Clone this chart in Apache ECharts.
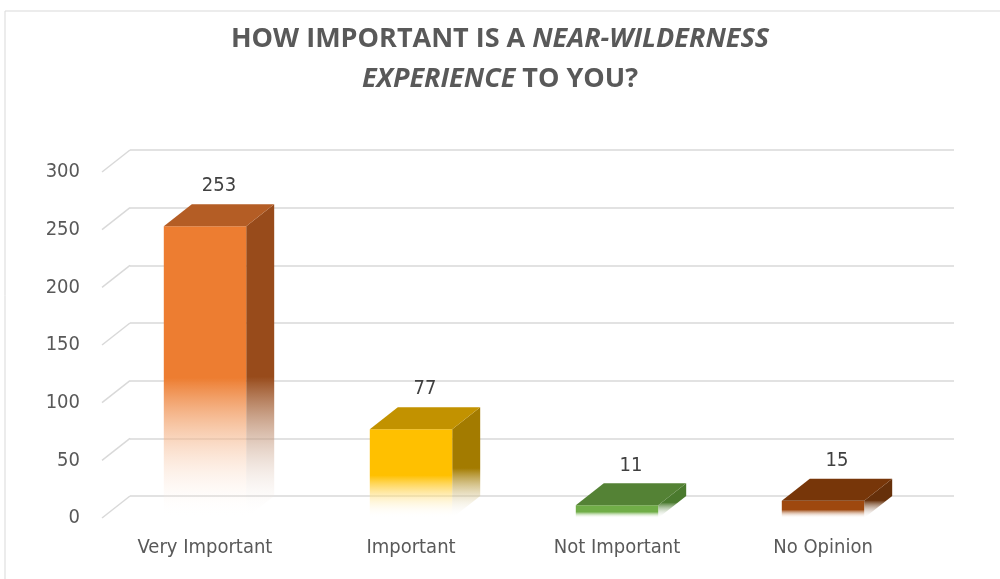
<!DOCTYPE html>
<html>
<head>
<meta charset="utf-8">
<style>
  html, body { margin: 0; padding: 0; background: #fff; }
  #chart { width: 1000px; height: 579px; }
</style>
<script src="https://cdn.jsdelivr.net/npm/echarts@6/dist/echarts.min.js"></script>
</head>
<body>
<div id="chart"></div>
<script>
var categories = ['Very Important', 'Important', 'Not Important', 'No Opinion'];
var counts = [253, 77, 11, 15];
var yTicks = [0, 50, 100, 150, 200, 250, 300];

// front / top / side colours of each box
var frontColors = ['#ED7D31', '#FFC000', '#70AD47', '#9E480E'];
var topColors = ['#B45D25', '#C29200', '#548235', '#773609'];
var sideColors = ['#984B1B', '#A37B00', '#4A7A2E', '#66300A'];

var DX = 28, DY = 22;  // 3d depth offset
var labelFont = "'Liberation Sans Narrow', 'DejaVu Sans Condensed', 'Roboto', sans-serif";

function fade(color, stop) {
    return new echarts.graphic.LinearGradient(0, 0, 0, 1, [
        { offset: 0, color: color },
        { offset: stop, color: color },
        { offset: 1, color: 'rgba(255,255,255,0)' }
    ]);
}

function renderBox(params, api) {
    var idx = api.value(0);
    var v = api.value(1);
    var top = api.coord([idx, v]);
    var base = api.coord([idx, 0]);
    var w = api.size([1, 0])[0] * 0.4;
    var x0 = top[0] - w / 2, x1 = top[0] + w / 2;
    var h = base[1] - top[1];
    return {
        type: 'group',
        children: [
            {
                type: 'polygon',
                shape: { points: [[x1, top[1]], [x1 + DX, top[1] - DY], [x1 + DX, base[1] - DY], [x1, base[1]]] },
                style: { fill: fade(sideColors[idx], 0.55) }
            },
            {
                type: 'rect',
                shape: { x: x0, y: top[1], width: w, height: h },
                style: { fill: fade(frontColors[idx], 0.52) }
            },
            {
                type: 'polygon',
                shape: { points: [[x0, top[1]], [x1, top[1]], [x1 + DX, top[1] - DY], [x0 + DX, top[1] - DY]] },
                style: { fill: topColors[idx] }
            },
            {
                type: 'text',
                style: {
                    text: String(v),
                    x: top[0] + DX / 2,
                    y: top[1] - DY - 18,
                    align: 'center',
                    verticalAlign: 'middle',
                    fill: '#404040',
                    font: '20px ' + labelFont
                }
            }
        ]
    };
}

function renderWallLine(params, api) {
    var y = api.coord([0, api.value(1)])[1];
    var x = params.coordSys.x;
    return {
        type: 'line',
        shape: { x1: x, y1: y, x2: x + DX, y2: y - DY },
        style: { stroke: '#d9d9d9', lineWidth: 1.5 }
    };
}

var chart = echarts.init(document.getElementById('chart'));

var option = {
    backgroundColor: '#fff',
    animation: false,
    title: {
        left: 'center',
        top: 14,
        text: '{b|HOW IMPORTANT IS A }{bi|NEAR-WILDERNESS}\n{bi|EXPERIENCE}{b| TO YOU?}',
        textStyle: {
            rich: {
                b: { fontFamily: 'Open Sans', fontWeight: 'bold', fontSize: 27, color: '#595959', lineHeight: 40 },
                bi: { fontFamily: 'Open Sans', fontWeight: 'bold', fontStyle: 'italic', fontSize: 27, color: '#595959', lineHeight: 40 }
            }
        }
    },
    graphic: [{
        type: 'rect',
        shape: { x: 5, y: 11, width: 1000, height: 600 },
        style: { fill: 'none', stroke: '#d9d9d9', lineWidth: 1 },
        z: -10
    }],
    grid: [
        { left: 102, right: 74, top: 172, bottom: 61 },
        { left: 102 + DX, right: 74 - DX, top: 172 - DY, bottom: 61 + DY }
    ],
    xAxis: [
        {
            type: 'category',
            gridIndex: 0,
            data: categories,
            axisLine: { show: false },
            axisTick: { show: false },
            axisLabel: { margin: 20, color: '#595959', fontSize: 20, fontFamily: labelFont }
        },
        { type: 'category', gridIndex: 1, data: categories, show: false }
    ],
    yAxis: [
        {
            type: 'value',
            gridIndex: 0,
            min: 0,
            max: 300,
            interval: 50,
            axisLine: { show: false },
            axisTick: { show: false },
            splitLine: { show: false },
            axisLabel: { margin: 22, color: '#595959', fontSize: 20, fontFamily: labelFont }
        },
        {
            type: 'value',
            gridIndex: 1,
            min: 0,
            max: 300,
            interval: 50,
            axisLine: { show: false },
            axisTick: { show: false },
            axisLabel: { show: false },
            splitLine: { show: true, lineStyle: { color: '#d9d9d9', width: 1.5 } }
        }
    ],
    series: [
        {
            type: 'custom',
            xAxisIndex: 0,
            yAxisIndex: 0,
            renderItem: renderWallLine,
            data: yTicks.map(function (t) { return [0, t]; }),
            silent: true,
            z: 1
        },
        {
            type: 'custom',
            xAxisIndex: 0,
            yAxisIndex: 0,
            renderItem: renderBox,
            data: counts.map(function (c, i) { return [i, c]; }),
            z: 5
        }
    ]
};

chart.setOption(option);
</script>
</body>
</html>
